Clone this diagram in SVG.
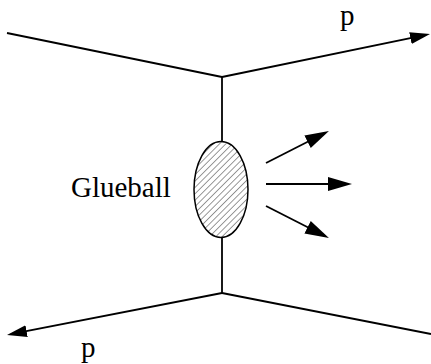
<svg xmlns="http://www.w3.org/2000/svg" width="431" height="364" viewBox="0 0 431 364">
<style>
.ln{stroke:#000;stroke-width:1.8;fill:none}
.tx{font-family:"Liberation Serif","Times New Roman",serif;font-size:29px;fill:#000}
</style>
<defs>
<marker id="ah" markerUnits="userSpaceOnUse" markerWidth="24" markerHeight="16" viewBox="0 -8 24 16" refX="16" refY="0" orient="auto">
<path d="M0,-6 L20,0 L0,6 z" fill="#000"/>
</marker>
<marker id="ahb" markerUnits="userSpaceOnUse" markerWidth="28" markerHeight="18" viewBox="0 -9 28 18" refX="20" refY="0" orient="auto">
<path d="M0,-7 L24,0 L0,7 z" fill="#000"/>
</marker>
<pattern id="hatch" patternUnits="userSpaceOnUse" width="4.5" height="4.5" patternTransform="rotate(45)">
<line x1="0" y1="0" x2="0" y2="4.5" stroke="#000" stroke-width="0.8"/>
</pattern>
</defs>
<g id="connectors">
<path class="ln" d="M7,33 L222,77"/>
<path class="ln" d="M222,77 L426.1,34.8" marker-end="url(#ah)"/>
<path class="ln" d="M222,77 L222,142"/>
<path class="ln" d="M222,237 L222,293"/>
<path class="ln" d="M222,293 L10.9,334.2" marker-end="url(#ah)"/>
<path class="ln" d="M222,293 L431,334"/>
<path class="ln" d="M266,163 L325.4,132.8" marker-end="url(#ahb)"/>
<path class="ln" d="M266,184 L348,184" marker-end="url(#ahb)"/>
<path class="ln" d="M266,206 L325.4,236.2" marker-end="url(#ahb)"/>
</g>
<g id="glueball">
<ellipse cx="221" cy="189.5" rx="27" ry="48" fill="url(#hatch)" stroke="#000" stroke-width="1.5"/>
<text class="tx" x="71" y="197">Glueball</text>
</g>
<g id="p-out-top">
<text class="tx" x="340" y="25">p</text>
</g>
<g id="p-out-bottom">
<text class="tx" x="81" y="357">p</text>
</g>
</svg>
